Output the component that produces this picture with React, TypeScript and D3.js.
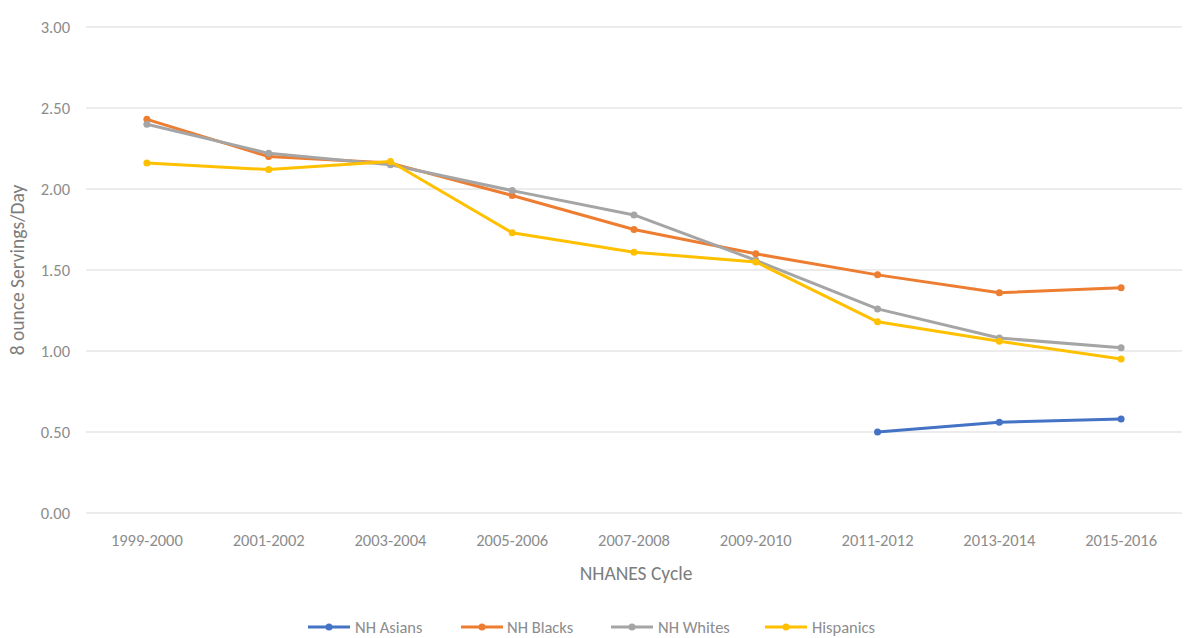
import React from "react";
import * as d3 from "d3";

const cycles = ["1999-2000","2001-2002","2003-2004","2005-2006","2007-2008","2009-2010","2011-2012","2013-2014","2015-2016"];
const nhAsians: (number|null)[] = [null,null,null,null,null,null,0.50,0.56,0.58];
const nhBlacks: (number|null)[] = [2.43,2.20,2.16,1.96,1.75,1.60,1.47,1.36,1.39];
const nhWhites: (number|null)[] = [2.40,2.22,2.15,1.99,1.84,1.56,1.26,1.08,1.02];
const hispanics: (number|null)[] = [2.16,2.12,2.17,1.73,1.61,1.55,1.18,1.06,0.95];
const yTicks = [0,0.5,1,1.5,2,2.5,3];

const seriesNames = ["NH Asians","NH Blacks","NH Whites","Hispanics"];
const seriesValues = [nhAsians, nhBlacks, nhWhites, hispanics];
const colors = ["#4472C4","#ED7D31","#A5A5A5","#FFC000"];

const W = 1186, H = 638;
const M = { left: 86, right: 4, top: 27, bottom: 125 };
const FONT = "Carlito, Calibri, Lato, sans-serif";
const TXT = "#8c8c8c";

export default function App() {
  const x = d3.scaleBand<string>().domain(cycles).range([M.left, W - M.right]);
  const y = d3.scaleLinear().domain([0, 3]).range([H - M.bottom, M.top]);
  const cx = (c: string) => (x(c) as number) + x.bandwidth() / 2;
  const line = d3.line<[string, number|null]>()
    .defined(d => d[1] !== null)
    .x(d => cx(d[0]))
    .y(d => y(d[1] as number));

  const legendItems = [
    { x: 308, tx: 355 },
    { x: 461, tx: 507 },
    { x: 611, tx: 658 },
    { x: 765, tx: 812 },
  ];

  return (
    <svg width={W} height={H} style={{ position: "absolute", left: 0, top: 0, background: "#fff" }} fontFamily={FONT}>
      {yTicks.map(t => (
        <g key={t}>
          <line x1={M.left} x2={W - M.right} y1={y(t)} y2={y(t)} stroke="#D9D9D9" strokeWidth={1.2} />
          <text x={70} y={y(t)} dy="0.35em" textAnchor="end" fontSize={16.5} fill={TXT}>{t.toFixed(2)}</text>
        </g>
      ))}
      {cycles.map(c => (
        <text key={c} x={cx(c)} y={540} dy="0.35em" textAnchor="middle" fontSize={16.5} fill={TXT}>{c}</text>
      ))}
      <text x={636} y={573} dy="0.35em" textAnchor="middle" fontSize={19.5} fill="#7c7c7c">NHANES Cycle</text>
      <text transform={`translate(17, ${270}) rotate(-90)`} dy="0.35em" textAnchor="middle" fontSize={19.5} fill="#7c7c7c">8 ounce Servings/Day</text>

      {seriesValues.map((vals, i) => {
        const pts = cycles.map((c, j) => [c, vals[j]] as [string, number|null]);
        return (
          <g key={seriesNames[i]}>
            <path d={line(pts) || ""} fill="none" stroke={colors[i]} strokeWidth={3} strokeLinejoin="round" strokeLinecap="round" />
            {pts.filter(p => p[1] !== null).map(p => (
              <circle key={p[0]} cx={cx(p[0])} cy={y(p[1] as number)} r={3.5} fill={colors[i]} />
            ))}
          </g>
        );
      })}

      {seriesNames.map((n, i) => (
        <g key={n}>
          <line x1={legendItems[i].x} x2={legendItems[i].x + 42} y1={627} y2={627} stroke={colors[i]} strokeWidth={3} />
          <circle cx={legendItems[i].x + 21} cy={627} r={3.5} fill={colors[i]} />
          <text x={legendItems[i].tx} y={627} dy="0.35em" fontSize={16.5} fill={TXT}>{n}</text>
        </g>
      ))}
    </svg>
  );
}
